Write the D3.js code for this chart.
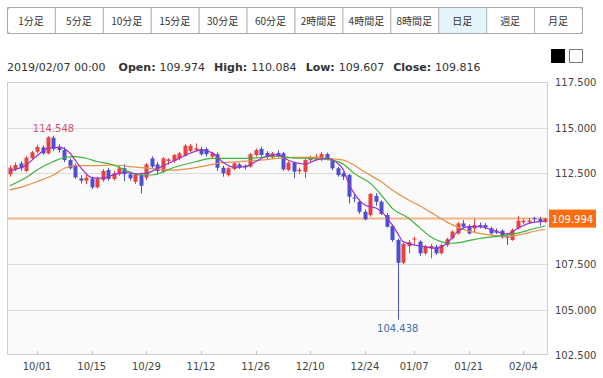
<!DOCTYPE html>
<html>
<head>
<meta charset="utf-8">
<script src="https://cdn.jsdelivr.net/npm/d3@7/dist/d3.min.js"></script>
<style>
body { margin: 0; background: #fff; }
</style>
</head>
<body>
<div id="chart"></div>
<script>
// tabs / header
var tabs = ["1分足","5分足","10分足","15分足","30分足","60分足","2時間足","4時間足","8時間足","日足","週足","月足"]
var activeTab = "日足"
var info = [["", "2019/02/07 00:00"], ["Open:", "109.974"], ["High:", "110.084"], ["Low:", "109.607"], ["Close:", "109.816"]]

// daily candles
var dates = ["09/24","09/25","09/26","09/27","09/28","10/01","10/02","10/03","10/04","10/05",
  "10/08","10/09","10/10","10/11","10/12","10/15","10/16","10/17","10/18","10/19",
  "10/22","10/23","10/24","10/25","10/26","10/29","10/30","10/31","11/01","11/02",
  "11/05","11/06","11/07","11/08","11/09","11/12","11/13","11/14","11/15","11/16",
  "11/19","11/20","11/21","11/22","11/23","11/26","11/27","11/28","11/29","11/30",
  "12/03","12/04","12/05","12/06","12/07","12/10","12/11","12/12","12/13","12/14",
  "12/17","12/18","12/19","12/20","12/21","12/24","12/25","12/26","12/27","12/28",
  "12/31","01/02","01/03","01/04","01/07","01/08","01/09","01/10","01/11",
  "01/14","01/15","01/16","01/17","01/18","01/21","01/22","01/23","01/24","01/25",
  "01/28","01/29","01/30","01/31","02/01","02/04","02/05","02/06","02/07","02/08"]
var opens = [112.43,112.70,113.03,112.61,113.31,113.67,113.91,113.58,114.44,113.95,
  113.76,113.21,112.94,112.20,112.08,112.20,111.71,112.12,112.66,112.17,
  112.43,112.76,112.43,112.02,112.39,112.24,113.30,112.97,112.57,113.16,
  113.16,113.30,113.45,113.71,113.76,113.82,113.82,113.40,113.53,112.79,
  112.39,112.72,112.97,112.90,112.85,113.49,113.82,113.60,113.36,113.60,
  113.58,112.67,113.07,112.60,112.57,113.21,113.29,113.25,113.54,113.21,
  112.76,112.48,112.39,111.15,110.92,110.37,110.19,111.24,110.92,110.19,
  109.59,108.82,107.57,108.48,108.85,108.73,108.09,108.36,108.45,
  108.09,108.54,108.91,109.18,109.73,109.59,109.45,109.64,109.64,109.46,
  109.33,109.33,109.00,108.82,109.46,109.79,109.80,110.02,109.974,109.82]
var highs = [112.92,113.08,113.15,113.42,113.72,114.05,114.02,114.52,114.548,114.08,
  113.92,113.30,113.02,112.38,112.40,112.30,112.30,112.72,112.78,112.62,
  112.90,112.98,112.52,112.50,112.52,113.05,113.42,113.10,113.38,113.32,
  113.55,113.65,114.08,114.10,114.13,113.95,113.90,113.65,113.62,112.90,
  112.82,113.10,113.05,112.96,113.60,113.85,113.95,113.70,113.65,113.75,
  113.65,113.15,113.12,112.80,113.28,113.45,113.55,113.65,113.62,113.30,
  112.85,112.55,112.45,111.35,111.05,110.50,111.40,111.40,111.00,110.30,
  109.65,108.90,108.65,108.82,109.00,108.80,108.55,108.60,108.55,
  108.62,108.95,109.35,109.82,109.92,109.68,109.98,109.78,109.75,109.55,
  109.45,109.40,109.20,109.45,110.15,109.98,110.02,110.10,110.084,110.03]
var lows = [112.30,112.60,112.62,112.55,113.22,113.58,113.50,113.52,113.70,113.62,
  113.10,112.70,112.18,111.92,111.88,111.62,111.65,112.02,112.08,112.08,
  112.35,112.05,112.08,111.90,111.38,112.10,112.78,112.40,112.50,112.95,
  113.05,113.20,113.40,113.65,113.70,113.45,113.40,113.30,112.62,112.30,
  112.30,112.65,112.72,112.70,112.80,113.40,113.40,113.25,113.30,113.35,
  112.62,112.60,112.21,112.45,112.21,113.10,113.20,113.15,113.20,112.65,
  112.30,112.12,110.83,110.90,110.25,109.90,110.10,110.70,110.20,109.50,
  108.72,104.438,107.50,108.09,108.60,107.95,107.98,107.81,108.00,
  108.02,108.45,108.85,109.10,109.45,109.12,109.20,109.45,109.40,109.10,
  109.15,108.90,108.55,108.78,109.40,109.70,109.72,109.80,109.607,109.74]
var closes = [112.79,112.94,112.76,113.34,113.64,113.93,113.58,114.46,113.82,113.76,
  113.21,112.76,112.26,112.08,112.24,111.71,112.17,112.61,112.17,112.48,
  112.76,112.43,112.21,112.43,111.80,112.97,112.85,112.61,113.30,113.25,
  113.49,113.58,114.00,114.00,113.85,113.53,113.53,113.58,112.79,112.48,
  112.76,113.03,112.79,112.81,113.53,113.76,113.49,113.42,113.58,113.45,
  112.70,113.07,112.57,112.68,113.21,113.31,113.40,113.54,113.30,112.76,
  112.39,112.30,111.20,111.10,110.37,109.95,111.35,110.92,110.25,109.55,
  108.82,107.57,108.60,108.70,108.90,108.09,108.45,108.49,108.09,
  108.54,108.86,109.28,109.73,109.55,109.18,109.64,109.55,109.51,109.18,
  109.22,108.97,108.98,109.37,109.88,109.88,109.88,109.97,109.816,109.994]

// moving averages: [date, value]
var maShort = [["09/24",112.62],["09/27",112.94],["10/01",113.45],["10/03",113.86],["10/05",113.91],["10/09",113.6],
  ["10/10",113.2],["10/11",112.8],["10/15",112.25],["10/17",112.22],["10/19",112.4],["10/23",112.54],["10/25",112.46],
  ["10/29",112.48],["10/31",112.75],["11/05",113.16],["11/07",113.45],["11/12",113.76],["11/14",113.62],["11/16",113.1],
  ["11/20",112.82],["11/22",112.85],["11/26",113.12],["11/28",113.42],["11/30",113.5],["12/04",113.2],["12/07",112.99],
  ["12/11",113.21],["12/13",113.31],["12/17",113.03],["12/18",112.7],["12/19",111.95],["12/21",111.0],["12/24",110.74],
  ["12/25",110.65],["12/26",110.58],["12/27",110.38],["12/31",109.65],["01/02",109.18],["01/03",108.73],["01/07",108.55],
  ["01/09",108.45],["01/11",108.36],["01/15",108.64],["01/17",109.28],["01/21",109.55],["01/23",109.55],["01/25",109.4],
  ["01/29",109.2],["01/30",109.15],["02/01",109.46],["02/05",109.73],["02/07",109.83],["02/08",109.85]]
var maMid = [["09/24",111.8],["09/27",112.25],["10/01",112.67],["10/04",113.13],["10/08",113.35],["10/10",113.4],
  ["10/12",113.31],["10/16",113.13],["10/19",112.94],["10/23",112.67],["10/26",112.39],["10/30",112.39],["11/05",112.8],
  ["11/09",113.12],["11/14",113.3],["11/21",113.3],["11/26",113.33],["11/30",113.42],["12/05",113.32],["12/10",113.3],
  ["12/13",113.25],["12/18",113.0],["12/20",112.48],["12/25",111.93],["12/27",111.29],["12/31",110.56],["01/04",110.01],
  ["01/08",109.5],["01/10",109.0],["01/14",108.72],["01/16",108.64],["01/21",108.78],["01/23",108.9],["01/29",109.05],
  ["02/01",109.2],["02/06",109.45],["02/08",109.59]]
var maLong = [["09/24",111.57],["09/27",111.81],["10/01",112.03],["10/04",112.39],["10/08",112.76],["10/10",112.9],
  ["10/16",112.9],["10/19",112.94],["10/24",112.85],["10/26",112.8],["10/31",112.72],["11/05",112.66],["11/12",112.85],
  ["11/15",113.03],["11/21",113.12],["11/27",113.21],["11/30",113.3],["12/05",113.36],["12/11",113.36],["12/13",113.3],
  ["12/18",113.21],["12/20",112.94],["12/24",112.55],["12/27",112.02],["12/31",111.57],["01/04",111.02],["01/08",110.7],
  ["01/10",110.35],["01/15",109.8],["01/18",109.4],["01/23",109.18],["01/28",109.06],["01/30",109.0],["02/04",109.15],
  ["02/06",109.3],["02/08",109.41]]

var yTicks = [102.5, 105, 107.5, 110, 112.5, 115, 117.5]
var xTickDates = ["10/01","10/15","10/29","11/12","11/26","12/10","12/24","01/07","01/21","02/04"]
var lastPrice = 109.994
var maxLabel = {date: "10/04", value: 114.548}
var minLabel = {date: "01/02", value: 104.438}

var W = 603, H = 378
var svg = d3.select("#chart").append("svg").attr("width", W).attr("height", H)
  .style("font-family", "Tahoma, 'DejaVu Sans', sans-serif")

// tabs
var tabX = d3.scaleBand().domain(tabs).range([7, 582])
var tab = svg.append("g").selectAll("g").data(tabs).enter().append("g")
tab.append("rect")
  .attr("x", function(d){ return tabX(d) + 0.5 })
  .attr("y", 7.5)
  .attr("width", tabX.bandwidth())
  .attr("height", 26)
  .attr("fill", function(d){ return d == activeTab ? "#e3f4fc" : "#fff" })
  .attr("stroke", "#b5b5b5")
svg.append("rect").attr("x", 7.5).attr("y", 7.5).attr("width", 575).attr("height", 26)
  .attr("rx", 3).attr("fill", "none").attr("stroke", "#a9a9a9")
tab.append("text")
  .attr("x", function(d){ return tabX(d) + tabX.bandwidth()/2 })
  .attr("y", 24.5)
  .attr("text-anchor", "middle")
  .attr("font-family", "'Noto Sans CJK JP', sans-serif")
  .attr("font-size", 10)
  .attr("fill", "#333")
  .text(function(d){ return d })

// header line
var infoText = svg.append("text").attr("x", 7).attr("y", 71).attr("font-size", 11).attr("fill", "#333")
info.forEach(function(d, i){
  if (d[0]) infoText.append("tspan").attr("dx", i == 1 ? 13 : 9).attr("font-weight", "bold").text(d[0])
  infoText.append("tspan").attr("dx", d[0] ? 4 : 0).text(d[1])
})
svg.append("rect").attr("x", 551).attr("y", 49).attr("width", 14).attr("height", 14).attr("fill", "#000")
svg.append("rect").attr("x", 569.5).attr("y", 49.5).attr("width", 13).attr("height", 13).attr("fill", "#fff").attr("stroke", "#777")

// plot
var plotLeft = 7, plotRight = 548, plotTop = 82, plotBottom = 355
var x = d3.scaleBand().domain(dates).range([plotLeft, plotRight])
var y = d3.scaleLinear().domain([102.5, 117.5]).range([plotBottom, plotTop])
var cx = function(d){ return x(d) + x.bandwidth()/2 }

svg.append("rect").attr("x", plotLeft).attr("y", plotTop).attr("width", plotRight-plotLeft).attr("height", plotBottom-plotTop).attr("fill", "#fafafa")

svg.append("g").selectAll("line").data(yTicks.filter(function(v){ return v > 102.5 && v < 117.5 && v != 110 }))
  .enter().append("line")
  .attr("x1", plotLeft).attr("x2", plotRight)
  .attr("y1", function(d){ return Math.round(y(d)) + 0.5 })
  .attr("y2", function(d){ return Math.round(y(d)) + 0.5 })
  .attr("stroke", "#dcdcdc")

// last price line
svg.append("line").attr("x1", plotLeft).attr("x2", plotRight)
  .attr("y1", y(lastPrice)).attr("y2", y(lastPrice))
  .attr("stroke", "#f2b384").attr("stroke-width", 2)

svg.append("rect").attr("x", plotLeft + 0.5).attr("y", plotTop + 0.5).attr("width", plotRight-plotLeft-1).attr("height", plotBottom-plotTop-1)
  .attr("fill", "none").attr("stroke", "#cfcfcf")

// x ticks
svg.append("g").selectAll("line").data(xTickDates).enter().append("line")
  .attr("x1", function(d){ return Math.round(cx(d)) + 0.5 })
  .attr("x2", function(d){ return Math.round(cx(d)) + 0.5 })
  .attr("y1", plotBottom - 4).attr("y2", plotBottom)
  .attr("stroke", "#c8c8c8")
svg.append("g").selectAll("text").data(xTickDates).enter().append("text")
  .attr("x", cx).attr("y", 370)
  .attr("text-anchor", "middle").attr("font-size", 10).attr("fill", "#444")
  .text(function(d){ return d })

// y labels
svg.append("g").selectAll("text").data(yTicks.filter(function(v){ return v != 110 })).enter().append("text")
  .attr("x", 555).attr("y", function(d){ return y(d) + 4 })
  .attr("font-size", 10).attr("fill", "#444")
  .text(function(d){ return d3.format(".3f")(d) })

// candles
var candles = dates.map(function(d, i){
  return {date: d, open: opens[i], high: highs[i], low: lows[i], close: closes[i]}
})
var up = "#e8413e", down = "#4d4fd0"
var bodyW = 4
var g = svg.append("g")
g.selectAll(".wick").data(candles).enter().append("line")
  .attr("class", "wick")
  .attr("x1", function(d){ return Math.round(cx(d.date)) + 0.5 })
  .attr("x2", function(d){ return Math.round(cx(d.date)) + 0.5 })
  .attr("y1", function(d){ return y(d.high) })
  .attr("y2", function(d){ return y(d.low) })
  .attr("stroke", function(d){ return d.close >= d.open ? up : down })
g.selectAll(".body").data(candles).enter().append("rect")
  .attr("class", "body")
  .attr("x", function(d){ return Math.round(cx(d.date)) + 0.5 - bodyW/2 })
  .attr("y", function(d){ return y(Math.max(d.open, d.close)) })
  .attr("width", bodyW)
  .attr("height", function(d){ return Math.max(1, Math.abs(y(d.open) - y(d.close))) })
  .attr("fill", function(d){ return d.close >= d.open ? up : down })

// moving averages
var line = d3.line()
  .x(function(d){ return cx(d[0]) })
  .y(function(d){ return y(d[1]) })
  .curve(d3.curveMonotoneX)
svg.append("path").datum(maLong).attr("d", line).attr("fill", "none").attr("stroke", "#e89148").attr("stroke-width", 1.2)
svg.append("path").datum(maMid).attr("d", line).attr("fill", "none").attr("stroke", "#3cb43c").attr("stroke-width", 1.2)
svg.append("path").datum(maShort).attr("d", line).attr("fill", "none").attr("stroke", "#9b30d0").attr("stroke-width", 1.2)

// high / low labels
svg.append("text").attr("x", cx(maxLabel.date)).attr("y", y(maxLabel.value) - 4)
  .attr("text-anchor", "middle").attr("font-size", 10).attr("fill", "#e0506a")
  .text(d3.format(".3f")(maxLabel.value))
svg.append("text").attr("x", cx(minLabel.date)).attr("y", y(minLabel.value) + 12)
  .attr("text-anchor", "middle").attr("font-size", 10).attr("fill", "#3f6fae")
  .text(d3.format(".3f")(minLabel.value))

// last price tag
svg.append("rect").attr("x", 549).attr("y", y(lastPrice) - 9).attr("width", 47).attr("height", 18).attr("fill", "#f96d0e")
svg.append("text").attr("x", 572.5).attr("y", y(lastPrice) + 4)
  .attr("text-anchor", "middle").attr("font-size", 10).attr("fill", "#fff")
  .text(d3.format(".3f")(lastPrice))
</script>
</body>
</html>
